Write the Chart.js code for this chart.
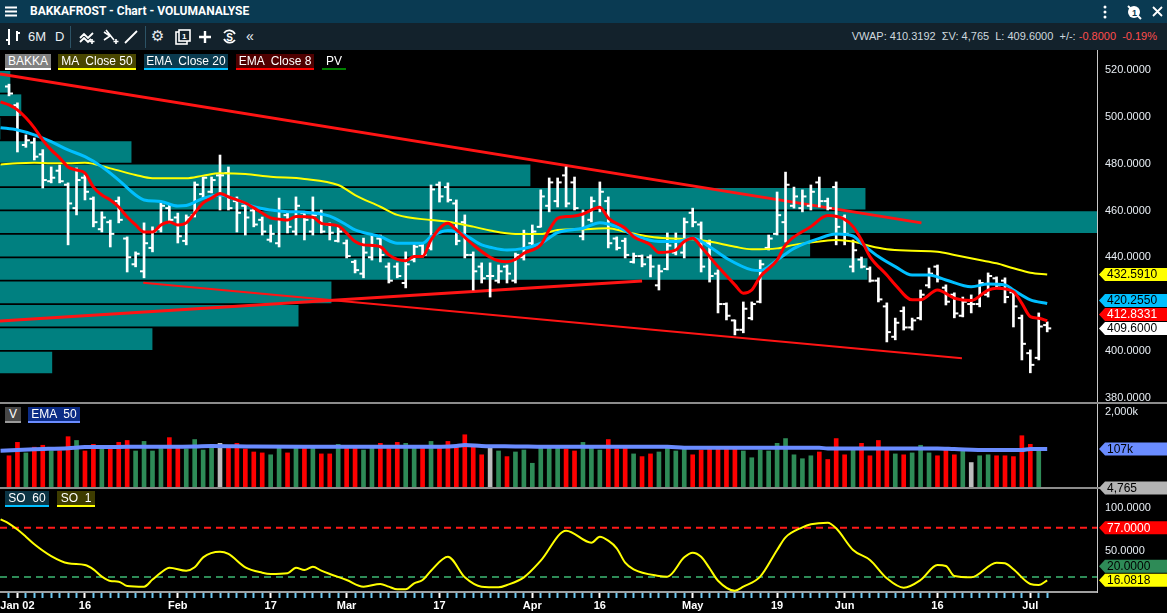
<!DOCTYPE html>
<html lang="da">
<head>
<meta charset="utf-8">
<title>BAKKAFROST - Chart - VOLUMANALYSE</title>
<script src="https://cdn.jsdelivr.net/npm/chart.js"></script>
<style>
  html, body { margin: 0; padding: 0; background: #000; }
  body { width: 1167px; height: 613px; position: relative; overflow: hidden; font-family: "Liberation Sans", Arial, sans-serif; }
  #titlebar { position: absolute; left: 0; top: 0; width: 1167px; height: 23px; background: #0a3a52; color: #fff; }
  #titlebar .title { position: absolute; left: 30px; top: 4px; font-family: Roboto, sans-serif; font-weight: bold; font-size: 12px; }
  #toolbar { position: absolute; left: 0; top: 23px; width: 1167px; height: 27px; background: #13222c; color: #e8eef2; }
  .tb { position: absolute; top: 6px; font-size: 13px; color: #e8eef2; }
  .ic { position: absolute; }
  .sep { position: absolute; top: 3px; width: 1px; height: 22px; background: #2c5366; }
  #quote { position: absolute; right: 10px; top: 7px; font-size: 11px; color: #cfd8de; white-space: pre; }
  #quote .neg { color: #ff4d4d; }
  #wrap { position: absolute; left: 0; top: 50px; width: 1167px; height: 563px; }
  .chip { position: absolute; box-sizing: border-box; height: 16px; line-height: 14px; border-bottom: 2px solid; text-align: center; font-size: 12px; color: #fff; white-space: pre; }
</style>
</head>
<body>
<div id="titlebar">
  <svg class="ic" style="left:5px;top:6px" width="12" height="11"><path d="M0 1.5h12M0 5.5h12M0 9.5h12" stroke="#fff" stroke-width="2"/></svg>
  <span class="title">BAKKAFROST - Chart - VOLUMANALYSE</span>
  <svg class="ic" style="left:1102px;top:5px" width="6" height="14"><circle cx="3" cy="2" r="1.5" fill="#fff"/><circle cx="3" cy="7" r="1.5" fill="#fff"/><circle cx="3" cy="12" r="1.5" fill="#fff"/></svg>
  <svg class="ic" style="left:1126px;top:4px" width="16" height="16"><circle cx="8" cy="8" r="6" fill="#fff"/><path d="M2 2l13 13" stroke="#fff" stroke-width="2"/><text x="6" y="11.5" font-size="9" font-weight="bold" fill="#0a3a52">1</text></svg>
  <svg class="ic" style="left:1152px;top:6px" width="11" height="11"><path d="M1 1l9 9M10 1l-9 9" stroke="#fff" stroke-width="1.8"/></svg>
</div>
<div id="toolbar">
  <svg class="ic" style="left:5px;top:5px" width="16" height="18"><path d="M4 1v16M1 12h3M12 3v10M12 5h3" stroke="#fff" stroke-width="2" fill="none"/></svg>
  <span class="tb" style="left:28px">6M</span>
  <span class="tb" style="left:55px">D</span>
  <div class="sep" style="left:70px"></div>
  <svg class="ic" style="left:79px;top:6px" width="17" height="16"><path d="M1 9l4-4 4 4 5-5M1 13l4-4 4 4 3-3" stroke="#fff" stroke-width="1.8" fill="none"/><path d="M13 10v5M10.5 12.5h5" stroke="#fff" stroke-width="1.6"/></svg>
  <svg class="ic" style="left:103px;top:6px" width="17" height="16"><path d="M1 3l6 4-6 4M3 1l8 10" stroke="#fff" stroke-width="1.6" fill="none"/><path d="M13 10v5M10.5 12.5h5" stroke="#fff" stroke-width="1.6"/></svg>
  <svg class="ic" style="left:124px;top:7px" width="14" height="14"><path d="M1 13L13 1" stroke="#fff" stroke-width="1.8"/></svg>
  <div class="sep" style="left:145px"></div>
  <span class="tb" style="left:151px;top:4px;font-family:'DejaVu Sans';font-size:15px">⚙</span>
  <svg class="ic" style="left:175px;top:6px" width="16" height="16"><rect x="1" y="3" width="11" height="12" fill="none" stroke="#fff" stroke-width="1.6"/><rect x="4" y="1" width="11" height="11" fill="#13222c" stroke="#fff" stroke-width="1.6"/><text x="7" y="10" font-size="8" font-weight="bold" fill="#fff">1</text></svg>
  <svg class="ic" style="left:199px;top:8px" width="12" height="12"><path d="M6 0v12M0 6h12" stroke="#fff" stroke-width="2.4"/></svg>
  <svg class="ic" style="left:221px;top:5px" width="17" height="17"><path d="M3 5a6.5 6.5 0 0 1 11 1M14 12a6.5 6.5 0 0 1-11-1" stroke="#fff" stroke-width="1.7" fill="none"/><text x="5.2" y="12.5" font-size="10" font-weight="bold" fill="#fff">S</text></svg>
  <span class="tb" style="left:246px;top:5px;font-size:14px">«</span>
  <div id="quote">VWAP: 410.3192  ΣV: 4,765  L: 409.6000  +/-: <span class="neg">-0.8000  -0.19%</span></div>
</div>
<div id="wrap"><canvas id="chart" width="1167" height="563"></canvas></div>

<div class="chip" style="left:5px;top:54px;width:46px;background:#808080;border-color:#fff">BAKKA</div>
<div class="chip" style="left:58px;top:54px;width:78px;background:#494600;border-color:#ffff00">MA  Close 50</div>
<div class="chip" style="left:144px;top:54px;width:84px;background:#0a3a4e;border-color:#00bfff">EMA  Close 20</div>
<div class="chip" style="left:236px;top:54px;width:78px;background:#4f0000;border-color:#ff0000">EMA  Close 8</div>
<div class="chip" style="left:322px;top:54px;width:24px;border-color:#008000">PV</div>
<div class="chip" style="left:5px;top:407px;width:16px;background:#474747;border-color:#9a9a9a">V</div>
<div class="chip" style="left:28px;top:407px;width:52px;background:#0c2c86;border-color:#6a8cff">EMA  50</div>
<div class="chip" style="left:5px;top:491px;width:44px;background:#0b3444;border-color:#00bfff">SO  60</div>
<div class="chip" style="left:57px;top:491px;width:38px;background:#3e3c00;border-color:#ffff00">SO  1</div>

<script>
// daily bars, Dec 30 .. Jul 3 (index 0 = first bar)
const opens = [513,505,488,489,484,472.5,477,471,461,474, 465,452,455,464,448,437,434,444,452,461,
  457,447,458,467,468,475,476,464,462,460, 456,447.5,446,458,451,459,451,459,454,447,
  446,438,433,440,448,436,436,429,439,445, 444,471,470,463,455,441,436,432,430,436,
  430,440,446,453,462,464,475,472,449,456, 461,464,448,447,438,440.5,440,428,435,442,
  442,459,454,446,433,420,413,409,414,421, 444,450,455,462,461,462,472,464,470,457,
  436,439,435,430,419,406,417,410,414,428, 436,427,424,415,420,420,424,431,430,425,
  414,399,397,411];
const highs = [514,506,492.3,491,486,478.6,479.4,471.8,478.2,475.2, 465.8,459.4,455.9,465.8,448.7,442.3,454.7,453,463.2,462.4,
  458.9,458.1,472.2,474.3,474.3,483.7,478.6,465.8,463.2,461.5, 457.2,453.8,465.3,458.9,465.8,459.4,465.8,460.2,454.7,453,
  447.4,438.8,448.2,449.5,449.5,437.6,437.6,442.3,445.3,446.1, 470.9,472.2,471.8,464.5,458.1,442.3,437.6,437.6,436.7,436.7,
  441.8,451.6,453.8,468.8,473.9,473.9,478.6,474.3,460.2,465.8, 472.2,465.8,448.7,448.2,441.8,441,441,436.7,450.4,450.4,
  456.8,461,455.1,447.4,434.6,420.5,413.2,420.9,420.9,438.8, 449.5,467.9,476.4,470,468.8,470.9,474.3,465.3,472.2,458.1,
  447.4,440.1,435.9,431.2,420.5,414,418.8,414,426,435.4, 436.7,428.2,424.8,423,423.9,430.3,433.3,431.6,431.2,426,
  415.3,400.4,416.2,412.4];
const lows = [509,485,487,481.6,469.6,471.8,471.8,445.3,458.1,464.5, 453,450.8,444.4,454.7,433.7,435.9,431.2,442.3,450.8,454.7,
  446.1,445.3,457.2,465.3,467.5,460.2,460.2,450.8,449.5,453, 449.5,446.5,444.4,450.4,449.5,447.4,449.5,450.4,447.4,446.5,
  439.7,433.3,431.2,438.8,438,429,431.2,426.9,438,440.1, 443.1,463.6,463.6,445.3,439.7,426,429,423,429,429,
  429,438.8,445.3,452.9,459.4,461.5,461.5,460.2,447.4,455.1, 459.4,444,443.1,439.7,437.5,435.9,431.6,426,434.6,441,
  439.7,453,433.7,429.4,416.2,413.2,406.8,407.7,413.2,420.5, 443.1,449.5,446.5,461,459.4,460.2,461.5,460.2,445.3,445.3,
  433.7,435.4,429.4,420.9,403.8,404.7,408.9,408.9,413.2,426.9, 429.4,419.6,414.1,414.5,416.2,418.8,423,427.3,420.5,410.2,
  396.1,390.6,396.1,408.1];
const closes = [510,494,490,483,473,474,472.5,463,473,468, 455,457,450,456,440,441.5,446,451,462,456,
  449,457,471,474,473,475,461,459,457,454, 451,450,456,453,462,456,458,451,450.5,451,
  440.5,434.5,442,445,441,430,432,437,444.5,441, 469,466,464.5,447,441,434,431,432,434,433,
  441,450,451,466,472,472,463,461,459,464, 468,446,444,441,440.5,437,436,434,445,447,
  455,455,436,432,420,415,409,418,420,437, 448,458,471,466,466,468,464,461,453,450,
  443,436,430,422,408,412,410,413,424,433, 431,421,416,421,420,429,432,428,423,419,
  403,394,410.4,409.6];
const volumes = [63000,181000,79000,124000,144000,94000,94000,283000,210000,92000,
  155000,109000,109000,181000,210000,92000,195000,92000,112000,263000,
  127000,109000,226000,99000,127000,168000,127000,168000,107000,85000,
  79000,68000,118000,79000,115000,127000,115000,73000,73000,155000,
  127000,121000,99000,115000,168000,112000,181000,168000,115000,112000,
  195000,127000,195000,124000,329000,127000,68000,115000,92000,59000,
  85000,99000,35000,115000,115000,115000,107000,92000,181000,115000,
  99000,226000,107000,115000,73000,59000,73000,85000,115000,92000,
  115000,68000,99000,115000,115000,115000,115000,92000,54000,99000,
  92000,168000,244000,68000,50000,63000,85000,47000,244000,68000,
  107000,168000,63000,210000,115000,73000,68000,79000,144000,79000,
  63000,107000,68000,99000,37000,63000,68000,63000,63000,59000,
  305000,155000,99000,4765];

// indicator lines: [bar index, value]
const ma50 = [[-1,479.7],[1,480.2],[3,480.4],[5,480.2],[7,480.2],[9,480.4],[12,478],[15,475.2],[17,473.8],[21,473.8],
  [23,474.9],[25,475.9],[28,475.6],[31,474.4],[35,473.5],[39,470.9],[41,466.6],[44,461.6],[46,458.1],[50,455.9],
  [52,455.2],[55,453.1],[57,451.4],[60,449.9],[63,449.9],[65,451.7],[68,452],[71,452.4],[73,450.9],[76,448.8],
  [78,448.1],[81,447.7],[83,446.7],[86,444.5],[88,443.4],[91,443.8],[93,445.3],[96,446.7],[98,447.4],[100,446.7],
  [102,444.8],[104,443.4],[107,442.8],[110,442.4],[112,441],[115,438.8],[117,437.4],[119,435.3],[121,433.4],[123,432.591]];
const ema20 = [[-1,495.4],[1,494.4],[3,492.3],[5,489.4],[7,485.9],[9,483],[11,478.7],[13,473],[15,466.6],[16,464.5],
  [18,463.8],[20,461.9],[21,462.1],[23,465.2],[25,466.6],[27,464.5],[29,461.6],[31,460.2],[33,459.5],[35,459.3],
  [38,457.6],[40,453.8],[41,451.7],[44,448.8],[46,446],[49,446],[50,448.8],[52,451.4],[54,449.5],[56,445.3],
  [57,444.3],[59,443.1],[61,443.8],[63,446],[65,450.5],[68,452.4],[70,454.8],[72,453.1],[74,449.5],[77,446.7],
  [79,446.7],[81,448.1],[83,444.5],[85,439.6],[88,434.6],[89,434.3],[91,438.8],[93,443.8],[96,448.1],[98,449.9],
  [100,449.1],[101,446],[103,440.3],[105,436],[107,432.4],[109,432.4],[111,430.3],[114,427.4],[116,428.6],[118,428.2],
  [119,426],[121,421.8],[123,420.255]];
const ema8 = [[-1,506.4],[0,505.1],[1,503],[2,499.6],[3,495.3],[4,490.1],[5,485.9],[6,482.5],[7,478.6],[8,477.3],
  [9,476],[10,470],[11,466.6],[12,464.5],[13,461.5],[14,457.2],[15,453.8],[16,450.8],[17,450.8],[18,453.8],
  [19,455.1],[20,453.8],[21,454.7],[22,458.9],[23,463.2],[24,465.3],[25,467.3],[26,465.8],[27,464.5],[28,463.2],
  [29,461.1],[30,458.9],[31,456.8],[32,456.3],[33,455.9],[34,457.4],[36,457.1],[37,454.5],[39,453.4],[40,450.3],
  [41,446.7],[42,445.3],[44,444.5],[45,441],[46,439.1],[47,438.5],[48,440.3],[49,440.3],[50,447.4],[52,454.5],
  [53,451.7],[55,445.3],[57,440],[58,438.5],[59,438.1],[60,439.1],[61,441.7],[63,445.3],[64,451.7],[65,456.7],
  [66,457.4],[67,457.6],[68,458.5],[70,461.4],[71,456.7],[73,452.4],[74,448.8],[76,445.3],[77,442],[79,443.1],
  [80,446.7],[81,448.1],[82,444.5],[84,436],[86,428.2],[87,424.6],[88,426],[89,431.7],[91,438.8],[92,445.3],
  [95,453.1],[97,457.8],[99,456.2],[100,453.1],[101,447.4],[102,440.3],[104,432.4],[105,428.2],[107,421.8],[108,421.8],
  [110,426],[112,422.5],[114,421.5],[116,426],[117,426.8],[119,425.3],[120,420.3],[121,414.6],[122,413.9],[123,412.8331]];
const volEma50 = [[-1,94000],[3,105000],[7,115000],[9,125000],[14,127000],[22,132000],[24,137000],[29,130000],[35,127000],
  [41,127000],[49,127000],[53,137000],[54,148000],[56,137000],[60,132000],[65,127000],[78,127000],[80,118000],
  [96,118000],[97,112000],[110,112000],[112,107000],[116,99000],[120,99000],[121,107000],[123,107000]];
const stoch = [[-1,86.9],[0,82],[1,75],[2,66.7],[3,58],[5,44.3],[7,35.9],[9,33.9],[10,28.9],[11,20.5],
  [12,15.4],[13,14.6],[14,9.6],[16,8.8],[17,17],[18,25],[19,30.8],[21,27.3],[22,31.2],[23,42.8],
  [25,49.3],[26,46.7],[28,31.2],[30,25],[31,23.5],[33,24.3],[34,30.8],[35,28.1],[36,31.9],[37,27.3],
  [38,23.5],[40,16.5],[42,8.8],[44,11.9],[45,8.8],[46,5.7],[47,5.7],[48,12.7],[49,16.5],[50,27.3],
  [52,43.5],[54,19.6],[56,8.8],[58,8.1],[59,10.7],[61,19.6],[63,38.9],[66,73.7],[69,59.8],[70,66.7],
  [71,62.1],[72,53.3],[73,36.6],[74,28.9],[77,21.2],[78,20.4],[80,42.8],[81,48.2],[82,43.5],[83,30.1],
  [84,15.7],[86,4.1],[87,8.8],[89,20.4],[91,51.3],[92,66],[94,77.6],[95,81.1],[97,83],[98,76.5],
  [100,51.3],[102,39.7],[104,18.5],[106,7.6],[108,16.5],[110,33.9],[111,32.8],[112,21.2],[114,19.6],[117,36.6],
  [118,35.9],[119,28.9],[121,11.9],[122,10.7],[123,16.0818]];
const stochLevels = [77, 20];

// volume profile: price bin centre and traded volume per 10 NOK bin
const pvPrice = [515, 505, 495, 485, 475, 465, 455, 445, 435, 425, 415, 405, 395];
const pvVolume = [20000, 42000, 0, 263000, 1063000, 1735000, 2200000, 1624000, 1739000, 664000, 598000, 305000, 104000];

// drawn trend lines: [bar index, price]
const trendTop = [[-1.07, 518.3], [108.1, 454.7]];
const trendUp = [[-1.07, 412.8], [75, 429.9]];
const trendDown = [[15.9, 429.1], [112.9, 396.8]];

// axes
const xTickIdx = [1, 9, 20, 31, 40, 51, 62, 70, 81, 91, 99, 110, 121];
const xTickText = ['Jan 02', '16', 'Feb', '17', 'Mar', '17', 'Apr', '16', 'May', '19', 'Jun', '16', 'Jul'];
const priceTicks = [380, 400, 420, 440, 460, 480, 500, 520];
const volTicks = [2000000];
const stochTicks = [50, 100];

const xMin = -1.066, xMax = 128.9;
const tickOff = 0.24;
const barIdx = closes.map((c, i) => i);
const labelAt = {};
xTickIdx.forEach((v, k) => { labelAt[v] = xTickText[k]; });

function pts(list) {
  return list.map((p) => ({ x: p[0], y: p[1] }));
}
function fixRight(scale) {
  scale.width = 70;
  scale.paddingTop = 0;
  scale.paddingBottom = 0;
}
function fmtVol(v) {
  return v >= 100000 ? Math.round(v / 1000) + 'k' : v.toLocaleString('en-US');
}

const volColors = closes.map((c, i) => (c > opens[i] ? '#2e8b57' : c < opens[i] ? '#ff0000' : '#bdbdbd'));
const last = (a) => a[a.length - 1];

const tags = [
  { axis: 'y', value: last(ma50)[1], text: last(ma50)[1].toFixed(4), bg: '#ffff00', fg: '#000' },
  { axis: 'y', value: last(ema20)[1], text: last(ema20)[1].toFixed(4), bg: '#00bfff', fg: '#000' },
  { axis: 'y', value: last(ema8)[1], text: last(ema8)[1].toFixed(4), bg: '#ff0000', fg: '#fff' },
  { axis: 'y', value: last(closes), text: last(closes).toFixed(4), bg: '#ffffff', fg: '#000' },
  { axis: 'yv', value: last(volEma50)[1], text: fmtVol(last(volEma50)[1]), bg: '#6a8cff', fg: '#000' },
  { axis: 'yv', value: last(volumes), text: fmtVol(last(volumes)), bg: '#b4b4b4', fg: '#000' },
  { axis: 'ys', value: stochLevels[0], text: stochLevels[0].toFixed(4), bg: '#ff0000', fg: '#fff' },
  { axis: 'ys', value: stochLevels[1], text: stochLevels[1].toFixed(4), bg: '#2e8b57', fg: '#000' },
  { axis: 'ys', value: last(stoch)[1], text: last(stoch)[1].toFixed(4), bg: '#ffff00', fg: '#000' },
];

// panel separators and last-value tags on the right axis
const panelPlugin = {
  id: 'panels',
  afterDraw(chart) {
    const c = chart.ctx;
    const s = chart.scales;
    c.save();
    c.strokeStyle = '#8c8c8c';
    c.lineWidth = 2;
    [s.yv.top, s.ys.top].forEach((yy) => {
      c.beginPath();
      c.moveTo(0, yy);
      c.lineTo(chart.width, yy);
      c.stroke();
    });
    const groups = {};
    tags.forEach((t) => {
      const sc = s[t.axis];
      let y = sc.getPixelForValue(t.value);
      if (!isFinite(y) || y > sc.bottom) y = sc.bottom;
      if (y < sc.top) y = sc.top;
      (groups[t.axis] = groups[t.axis] || []).push(Object.assign({ y: y }, t));
    });
    const x0 = chart.chartArea.right + 2;
    c.font = '12px "Liberation Sans", Arial, sans-serif';
    c.textBaseline = 'middle';
    Object.keys(groups).forEach((k) => {
      const list = groups[k].sort((a, b) => b.y - a.y);
      for (let i = 1; i < list.length; i++) list[i].y = Math.min(list[i].y, list[i - 1].y - 14);
      list.forEach((t) => {
        c.fillStyle = t.bg;
        c.beginPath();
        c.moveTo(x0, t.y);
        c.lineTo(x0 + 6, t.y - 6.5);
        c.lineTo(chart.width, t.y - 6.5);
        c.lineTo(chart.width, t.y + 6.5);
        c.lineTo(x0 + 6, t.y + 6.5);
        c.closePath();
        c.fill();
        c.fillStyle = t.fg;
        c.fillText(t.text, x0 + 8, t.y + 0.5);
      });
    });
    c.restore();
  },
};

Chart.defaults.font.family = '"Liberation Sans", Arial, sans-serif';
Chart.defaults.color = '#e8eef4';

const ctx = document.getElementById('chart');
new Chart(ctx, {
  data: {
    datasets: [
      {
        type: 'bar', label: 'PV', indexAxis: 'y', xAxisID: 'xpv', yAxisID: 'y',
        data: pvPrice.map((p, k) => ({ x: pvVolume[k], y: p })),
        backgroundColor: '#008080', barThickness: 21, grouped: false, order: 20,
      },
      { type: 'line', label: 'trend1', data: pts(trendTop), yAxisID: 'y', borderColor: '#ff1414', borderWidth: 3, pointRadius: 0, order: 15 },
      { type: 'line', label: 'trend2', data: pts(trendUp), yAxisID: 'y', borderColor: '#ff1414', borderWidth: 3, pointRadius: 0, order: 15 },
      { type: 'line', label: 'trend3', data: pts(trendDown), yAxisID: 'y', borderColor: '#ff1414', borderWidth: 2, pointRadius: 0, order: 15 },
      {
        type: 'bar', label: 'BAKKA', yAxisID: 'y',
        data: barIdx.map((i) => ({ x: i, y: [lows[i], highs[i]] })),
        backgroundColor: '#ffffff', barThickness: 2, grouped: false, order: 10,
      },
      {
        type: 'line', label: 'open', yAxisID: 'y', showLine: false,
        data: barIdx.map((i) => ({ x: i - tickOff, y: opens[i] })),
        pointStyle: 'line', pointRadius: 2, pointHoverRadius: 0, pointBorderWidth: 2, pointBorderColor: '#ffffff', order: 10,
      },
      {
        type: 'line', label: 'close', yAxisID: 'y', showLine: false,
        data: barIdx.map((i) => ({ x: i + tickOff, y: closes[i] })),
        pointStyle: 'line', pointRadius: 2, pointHoverRadius: 0, pointBorderWidth: 2, pointBorderColor: '#ffffff', order: 10,
      },
      { type: 'line', label: 'MA Close 50', data: pts(ma50), yAxisID: 'y', borderColor: '#ffff00', borderWidth: 2, pointRadius: 0, cubicInterpolationMode: 'monotone', order: 6 },
      { type: 'line', label: 'EMA Close 20', data: pts(ema20), yAxisID: 'y', borderColor: '#00bfff', borderWidth: 3, pointRadius: 0, cubicInterpolationMode: 'monotone', order: 5 },
      { type: 'line', label: 'EMA Close 8', data: pts(ema8), yAxisID: 'y', borderColor: '#ff0000', borderWidth: 3, pointRadius: 0, cubicInterpolationMode: 'monotone', order: 4 },
      {
        type: 'bar', label: 'V', yAxisID: 'yv',
        data: barIdx.map((i) => ({ x: i, y: volumes[i] })),
        backgroundColor: volColors, barThickness: 4, grouped: false, order: 10,
      },
      { type: 'line', label: 'EMA 50', data: pts(volEma50), yAxisID: 'yv', borderColor: '#6a8cff', borderWidth: 4, pointRadius: 0, cubicInterpolationMode: 'monotone', order: 4 },
      { type: 'line', label: 'hi', data: [{ x: xMin, y: stochLevels[0] }, { x: xMax, y: stochLevels[0] }], yAxisID: 'ys', borderColor: '#ff1a1a', borderWidth: 2, borderDash: [7, 5], pointRadius: 0, order: 9 },
      { type: 'line', label: 'lo', data: [{ x: xMin, y: stochLevels[1] }, { x: xMax, y: stochLevels[1] }], yAxisID: 'ys', borderColor: '#2e8b57', borderWidth: 2, borderDash: [7, 5], pointRadius: 0, order: 9 },
      { type: 'line', label: 'SO 1', data: pts(stoch), yAxisID: 'ys', borderColor: '#ffff00', borderWidth: 2, pointRadius: 0, cubicInterpolationMode: 'monotone', order: 4 },
    ],
  },
  options: {
    responsive: false,
    animation: false,
    events: [],
    layout: { padding: 0, autoPadding: false },
    plugins: { legend: { display: false }, tooltip: { enabled: false } },
    scales: {
      x: {
        type: 'linear', min: xMin, max: xMax, offset: false,
        afterBuildTicks: (scale) => { scale.ticks = barIdx.map((v) => ({ value: v })); },
        afterFit: (scale) => { scale.height = 21; scale.paddingLeft = 0; scale.paddingRight = 0; },
        ticks: { autoSkip: false, maxRotation: 0, padding: 1, color: '#ffffff', font: { size: 11, weight: 'bold' }, callback: (v) => labelAt[v] || '' },
        grid: { offset: false, drawOnChartArea: false, drawTicks: true, tickLength: 6, tickWidth: 2, tickColor: (c) => (labelAt[c.tick && c.tick.value] ? '#ffffff' : '#6cc8f0') },
        border: { display: true, color: '#a0a0a0', width: 2 },
      },
      xpv: { type: 'linear', axis: 'x', position: 'bottom', display: false, offset: false, min: 0, max: 2200000 },
      y: {
        type: 'linear', position: 'right', stack: 'panes', stackWeight: 353, min: 377.7, max: 528.6, offset: false,
        afterBuildTicks: (scale) => { scale.ticks = priceTicks.map((v) => ({ value: v })); },
        afterFit: fixRight,
        ticks: { padding: 8, font: { size: 11 }, callback: (v) => v.toFixed(4) },
        grid: { offset: false, drawOnChartArea: false, drawTicks: false },
        border: { color: '#c8c8c8', width: 1 },
      },
      yv: {
        type: 'logarithmic', position: 'right', stack: 'panes', stackWeight: 85, min: 5000, max: 4000000, offset: false,
        afterBuildTicks: (scale) => { scale.ticks = volTicks.map((v) => ({ value: v })); },
        afterFit: fixRight,
        ticks: { padding: 8, font: { size: 11 }, callback: (v) => (v / 1000).toLocaleString('en-US') + 'k' },
        grid: { drawOnChartArea: false, drawTicks: false },
        border: { color: '#c8c8c8', width: 1 },
      },
      ys: {
        type: 'linear', position: 'right', stack: 'panes', stackWeight: 104, min: 2.6, max: 123.2, offset: false,
        afterBuildTicks: (scale) => { scale.ticks = stochTicks.map((v) => ({ value: v })); },
        afterFit: fixRight,
        ticks: { padding: 8, font: { size: 11 }, callback: (v) => v.toFixed(4) },
        grid: { drawOnChartArea: false, drawTicks: false },
        border: { color: '#c8c8c8', width: 1 },
      },
    },
  },
  plugins: [panelPlugin],
});
</script>
</body>
</html>
